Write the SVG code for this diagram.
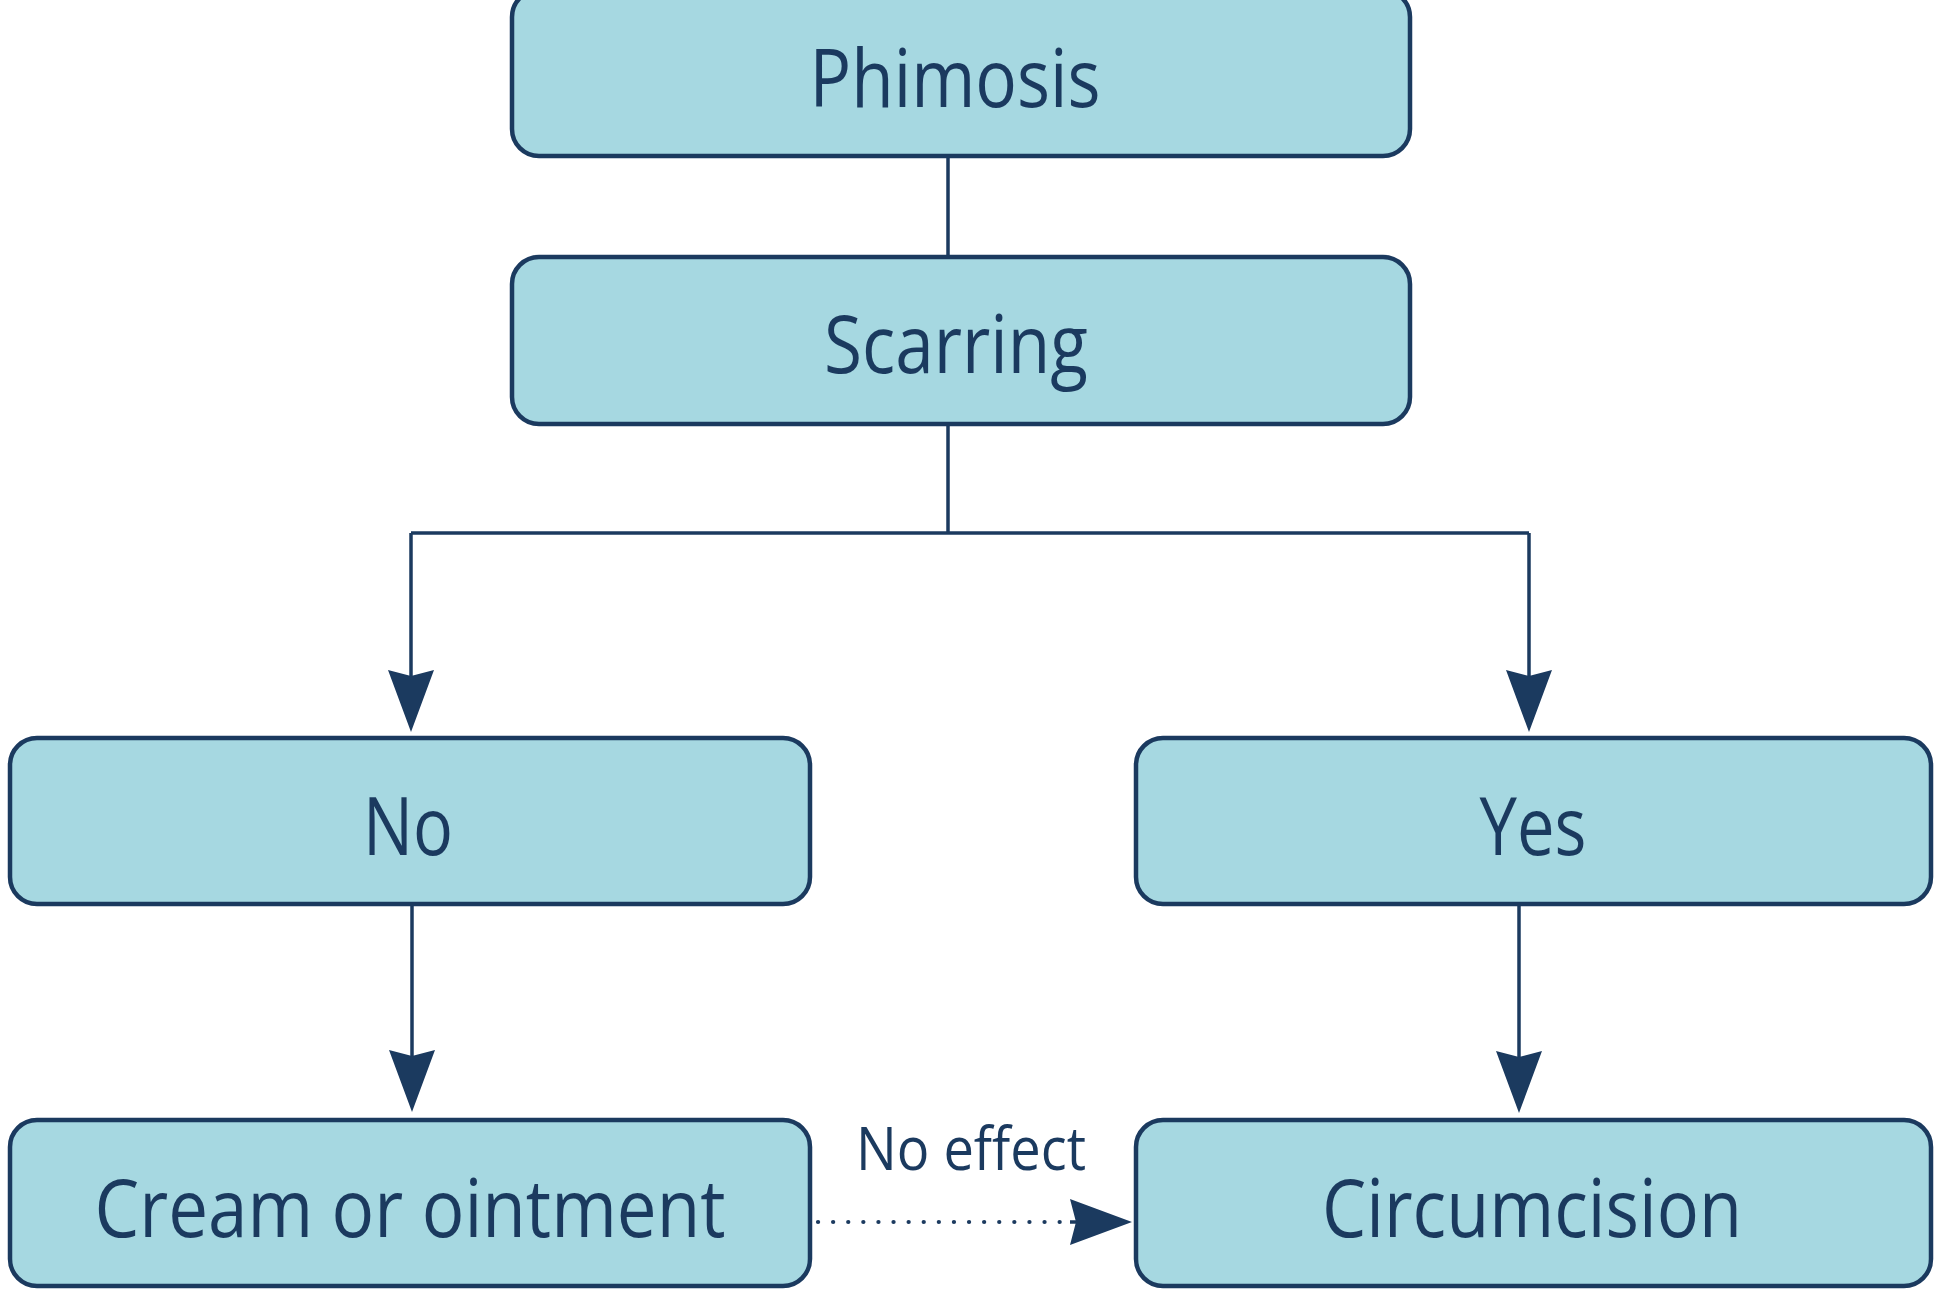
<svg xmlns="http://www.w3.org/2000/svg" width="1934" height="1289" viewBox="0 0 1934 1289">
<style>
.box{fill:#a6d8e1;stroke:#1b3a5f;stroke-width:4.5}
.lbl{font-family:"Open Sans","Noto Sans",sans-serif;font-size:80px;fill:#1b3a5f;text-anchor:middle}
.small{font-family:"Open Sans","Noto Sans",sans-serif;font-size:60px;fill:#1b3a5f}
.conn{fill:none;stroke:#1b3a5f;stroke-width:3.5}
.dot{fill:none;stroke:#1b3a5f;stroke-width:4.2;stroke-linecap:round;stroke-dasharray:0.1 15}
</style>
<defs>
<marker id="ah" viewBox="-62 -23 62 46" refX="-20" refY="0" markerWidth="62" markerHeight="46" markerUnits="userSpaceOnUse" orient="auto">
<path d="M0,0 L-62,-23 L-56,0 L-62,23 Z" fill="#1b3a5f"/>
</marker>
</defs>
<rect width="1934" height="1289" fill="#ffffff"/>
<g id="connectors">
<line class="conn" x1="948" y1="156" x2="948" y2="257"/>
<line class="conn" x1="948" y1="424" x2="948" y2="533"/>
<line class="conn" x1="411" y1="533" x2="1529" y2="533"/>
<line class="conn" x1="411" y1="533" x2="411" y2="712" marker-end="url(#ah)"/>
<line class="conn" x1="1529" y1="533" x2="1529" y2="712" marker-end="url(#ah)"/>
<line class="conn" x1="412" y1="904" x2="412" y2="1092" marker-end="url(#ah)"/>
<line class="conn" x1="1519" y1="904" x2="1519" y2="1093" marker-end="url(#ah)"/>
<line class="dot" x1="818" y1="1222" x2="1070" y2="1222"/>
<line class="conn" x1="1070" y1="1222" x2="1112" y2="1222" stroke="none" marker-end="url(#ah)"/>
<text class="small" x="856" y="1170" textLength="230" lengthAdjust="spacingAndGlyphs">No effect</text>
</g>
<g id="phimosis">
<rect class="box" x="512" y="-10" width="898" height="166" rx="27"/>
<text class="lbl" x="955" y="107" textLength="291" lengthAdjust="spacingAndGlyphs">Phimosis</text>
</g>
<g id="scarring">
<rect class="box" x="512" y="257" width="898" height="167" rx="27"/>
<text class="lbl" x="956" y="373" textLength="264" lengthAdjust="spacingAndGlyphs">Scarring</text>
</g>
<g id="no">
<rect class="box" x="10" y="738" width="800" height="166" rx="27"/>
<text class="lbl" x="408" y="855" textLength="90" lengthAdjust="spacingAndGlyphs">No</text>
</g>
<g id="yes">
<rect class="box" x="1136" y="738" width="795" height="166" rx="27"/>
<text class="lbl" x="1533" y="855" textLength="107" lengthAdjust="spacingAndGlyphs">Yes</text>
</g>
<g id="cream">
<rect class="box" x="10" y="1120" width="800" height="166" rx="27"/>
<text class="lbl" x="410" y="1237" textLength="631" lengthAdjust="spacingAndGlyphs">Cream or ointment</text>
</g>
<g id="circumcision">
<rect class="box" x="1136" y="1120" width="795" height="166" rx="27"/>
<text class="lbl" x="1532" y="1237" textLength="420" lengthAdjust="spacingAndGlyphs">Circumcision</text>
</g>
</svg>
